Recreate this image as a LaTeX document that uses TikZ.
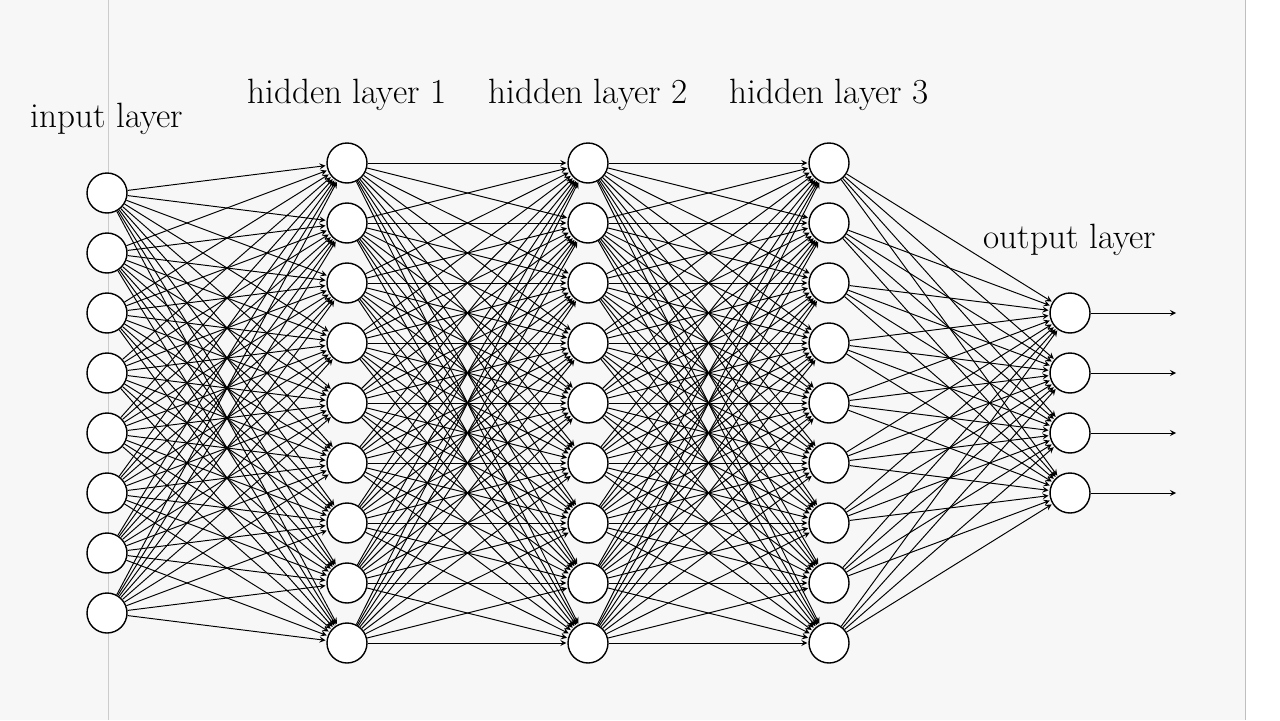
\documentclass[tikz,border=0pt]{standalone}
\usetikzlibrary{arrows,positioning,calc}
\definecolor{bggrey}{RGB}{247,247,247}
\begin{document}
\begin{tikzpicture}[>=stealth,x=0.02cm,y=-0.02cm]
	\tikzset{neuron/.style = {shape=circle,draw,thick,fill=white,minimum size=0.8cm,inner sep=0pt}}
	\tikzset{edge/.style = {->,line width=0.55pt,shorten >=0.5pt}}
	\tikzset{title/.style = {font=\fontsize{20}{22}\selectfont}}
	% background
	\useasboundingbox (0,0) rectangle (1280,720);
	\fill[bggrey] (0,0) rectangle (1245,720);
	\fill[white] (1245,0) rectangle (1280,720);
	\draw[gray!40] (108,0) -- (108,720);
	\draw[gray!50] (1245,0) -- (1245,720);
	% neurons
	\foreach \i in {1,...,8}
		\node[neuron] (I\i) at (107,{193+60*(\i-1)}) {};
	\foreach \l/\x in {1/347,2/588,3/829}
		\foreach \i in {1,...,9}
			\node[neuron] (H\l-\i) at (\x,{163+60*(\i-1)}) {};
	\foreach \i in {1,...,4}
		\node[neuron] (O\i) at (1070,{313+60*(\i-1)}) {};
	% labels
	\node[title] (lin) at (107,119) {input layer};
	\node[title] (lh1) at (347,95) {hidden layer 1};
	\node[title] (lh2) at (588,95) {hidden layer 2};
	\node[title] (lh3) at (829,95) {hidden layer 3};
	\node[title] (lout) at (1070,240) {output layer};
	% edges
	\foreach \i in {1,...,8}
		\foreach \j in {1,...,9}
			\draw[edge] (I\i) -- (H1-\j);
	\foreach \a/\b in {1/2,2/3}
		\foreach \i in {1,...,9}
			\foreach \j in {1,...,9}
				\draw[edge] (H\a-\i) -- (H\b-\j);
	\foreach \i in {1,...,9}
		\foreach \j in {1,...,4}
			\draw[edge] (H3-\i) -- (O\j);
	\foreach \i in {1,...,4}{
		\coordinate (E\i) at (1177,{313+60*(\i-1)});
		\draw[edge] (O\i) -- (E\i);
	}
\end{tikzpicture}
\end{document}
